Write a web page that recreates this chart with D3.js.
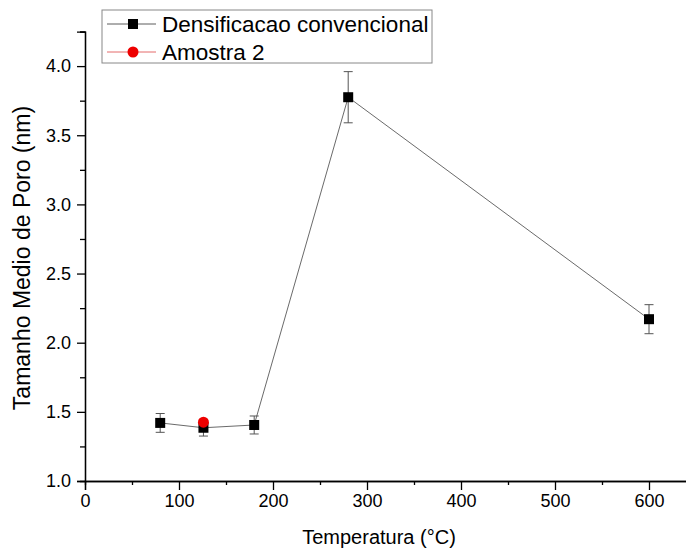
<!DOCTYPE html>
<html>
<head>
<meta charset="utf-8">
<script src="https://cdn.jsdelivr.net/npm/d3@7"></script>
<style>
  body { margin: 0; background: #fff; }
  text { font-family: "Liberation Sans", Arial, sans-serif; fill: #000; }
</style>
</head>
<body>
<div id="chart"></div>
<script>
// series: Densificacao convencional
const temps = [80, 126, 180, 280, 600]
const poreSize = [1.42, 1.385, 1.405, 3.775, 2.17]
const poreErr = [0.068, 0.06, 0.065, 0.185, 0.105]

// series: Amostra 2
const temps2 = [126]
const poreSize2 = [1.425]

const xTicks = [0, 100, 200, 300, 400, 500, 600]
const xMinor = [50, 150, 250, 350, 450, 550]
const yTicks = [1.0, 1.5, 2.0, 2.5, 3.0, 3.5, 4.0]
const yMinor = [1.25, 1.75, 2.25, 2.75, 3.25, 3.75, 4.25]

const W = 686, H = 552

const svg = d3.select("#chart").append("svg")
  .attr("width", W).attr("height", H)

const x = d3.scaleLinear().domain([0, 640]).range([85, 85 + 640 * 0.94])
const y = d3.scaleLinear().domain([1, 4.25]).range([481, 481 - 3.25 * 138.3])

// x axis
const gx = svg.append("g").attr("transform", `translate(0,${y(1)})`)
gx.append("g")
  .call(d3.axisBottom(x).tickValues(xMinor).tickSize(4).tickFormat(""))
gx.append("g")
  .call(d3.axisBottom(x).tickValues(xTicks).tickSize(9).tickPadding(4).tickFormat(d3.format("d")))
gx.selectAll("path").attr("stroke", "#000").attr("stroke-width", 1.3)
gx.selectAll(".tick line").attr("stroke", "#000").attr("stroke-width", 1.3)
gx.selectAll(".tick text").style("font-size", "18px").style("font-family", "Liberation Sans, Arial, sans-serif")

// y axis
const gy = svg.append("g").attr("transform", `translate(${x(0)},0)`)
gy.append("g")
  .call(d3.axisLeft(y).tickValues(yMinor).tickSize(5).tickFormat(""))
gy.append("g")
  .call(d3.axisLeft(y).tickValues(yTicks).tickSize(8).tickPadding(6).tickFormat(d3.format(".1f")))
gy.selectAll("path").attr("stroke", "#000").attr("stroke-width", 1.3)
gy.selectAll(".tick line").attr("stroke", "#000").attr("stroke-width", 1.3)
gy.selectAll(".tick text").style("font-size", "18px").style("font-family", "Liberation Sans, Arial, sans-serif")

// axis titles
svg.append("text")
  .attr("x", x(300) + 12).attr("y", 544)
  .attr("text-anchor", "middle")
  .style("font-size", "20px")
  .text("Temperatura (°C)")

svg.append("text")
  .attr("transform", `translate(30,258) rotate(-90)`)
  .attr("text-anchor", "middle")
  .style("font-size", "23px")
  .text("Tamanho Medio de Poro (nm)")

// connecting line
const pts = temps.map((t, i) => [t, poreSize[i], poreErr[i]])
svg.append("path")
  .datum(pts)
  .attr("fill", "none")
  .attr("stroke", "#444")
  .attr("stroke-width", 0.8)
  .attr("d", d3.line().x(d => x(d[0])).y(d => y(d[1])))

// error bars
const eb = svg.append("g").attr("stroke", "#555").attr("stroke-width", 1)
pts.forEach(d => {
  eb.append("line").attr("x1", x(d[0])).attr("x2", x(d[0]))
    .attr("y1", y(d[1] - d[2])).attr("y2", y(d[1] + d[2]))
  ;[d[1] - d[2], d[1] + d[2]].forEach(v => {
    eb.append("line").attr("x1", x(d[0]) - 4.5).attr("x2", x(d[0]) + 4.5)
      .attr("y1", y(v)).attr("y2", y(v))
  })
})

// square markers
svg.selectAll(".sq").data(pts).join("rect")
  .attr("class", "sq")
  .attr("x", d => x(d[0]) - 5).attr("y", d => y(d[1]) - 5)
  .attr("width", 10).attr("height", 10)
  .attr("fill", "#000")

// red circle markers
svg.selectAll(".circ").data(temps2.map((t, i) => [t, poreSize2[i]])).join("circle")
  .attr("class", "circ")
  .attr("cx", d => x(d[0])).attr("cy", d => y(d[1]))
  .attr("r", 5.5)
  .attr("fill", "#e00")

// legend
const lg = svg.append("g")
lg.append("rect")
  .attr("x", 102).attr("y", 10).attr("width", 330).attr("height", 53)
  .attr("fill", "#fff").attr("stroke", "#888").attr("stroke-width", 1)

lg.append("line").attr("x1", 107).attr("x2", 156).attr("y1", 24).attr("y2", 24)
  .attr("stroke", "#333").attr("stroke-width", 0.8)
lg.append("rect").attr("x", 128).attr("y", 19).attr("width", 10).attr("height", 10).attr("fill", "#000")
lg.append("text").attr("x", 162).attr("y", 32).style("font-size", "22.5px").text("Densificacao convencional")

lg.append("line").attr("x1", 107).attr("x2", 156).attr("y1", 52).attr("y2", 52)
  .attr("stroke", "#d44").attr("stroke-width", 0.8)
lg.append("circle").attr("cx", 133).attr("cy", 52).attr("r", 5.5).attr("fill", "#e00")
lg.append("text").attr("x", 162).attr("y", 60).style("font-size", "22.5px").text("Amostra 2")
</script>
</body>
</html>
